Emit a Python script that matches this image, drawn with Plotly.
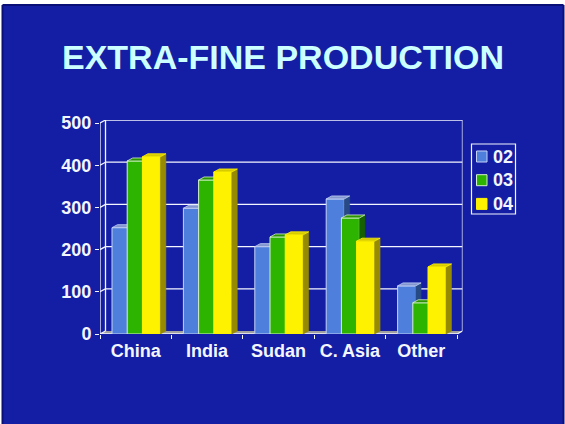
import plotly.graph_objects as go

# Output per region and crop year
categories = ["China", "India", "Sudan", "C. Asia", "Other"]
series_names = ["02", "03", "04"]
values_02 = [252, 298, 207, 320, 114]
values_03 = [410, 365, 230, 275, 74]
values_04 = [420, 384, 235, 220, 159]
y_ticks = [0, 100, 200, 300, 400, 500]

W, H = 565, 424
BG = "#141ea5"
RIM = "#0a0f78"
FONT = "Liberation Sans, Arial, sans-serif"

# Oblique depth of the 3D box, in axis units
DX, DY = 0.077, 7.1
BAR_W, BAR_STEP, BAR_START = 0.252, 0.213, -0.332

XMAX = 4.5 + DX
YMAX = 500 + DY
positions = list(range(len(categories)))

styles = [
    dict(front="#4f7fdc", edge="#c4d2f6", top="#8296cf", side="#274a86"),
    dict(front="#2db400", edge="#d5f0cc", top="#2a9400", side="#176000"),
    dict(front="#fff200", edge="#fff200", top="#d8cc00", side="#958a00"),
]
all_values = [values_02, values_03, values_04]

fig = go.Figure()

for i, (name, vals, st) in enumerate(zip(series_names, all_values, styles)):
    suffix = "" if i == 0 else str(i + 1)
    xa, ya = "x" + suffix, "y" + suffix
    offset = BAR_START + i * BAR_STEP
    fig.add_trace(go.Bar(
        x=positions, y=vals, name=name, width=BAR_W, offset=offset,
        marker=dict(color=st["front"], line=dict(color=st["edge"], width=1)),
        xaxis=xa, yaxis=ya, showlegend=False, hoverinfo="skip",
    ))
    # Top and side faces of each bar, projected back from its front face
    top_x, top_y, side_x, side_y = [], [], [], []
    for p, v in zip(positions, vals):
        x0, x1 = p + offset, p + offset + BAR_W
        top_x += [x0, x1, x1 + DX, x0 + DX, x0, None]
        top_y += [v, v, v + DY, v + DY, v, None]
        side_x += [x1, x1 + DX, x1 + DX, x1, x1, None]
        side_y += [0, DY, v + DY, v, 0, None]
    fig.add_trace(go.Scatter(
        x=side_x, y=side_y, mode="lines", fill="toself", fillcolor=st["side"],
        line=dict(color=st["side"], width=0.5), xaxis=xa, yaxis=ya,
        showlegend=False, hoverinfo="skip",
    ))
    fig.add_trace(go.Scatter(
        x=top_x, y=top_y, mode="lines", fill="toself", fillcolor=st["top"],
        line=dict(color=st["edge"], width=0.8), xaxis=xa, yaxis=ya,
        showlegend=False, hoverinfo="skip",
    ))

WHITE = "#f4f6ff"
rim_line = dict(color=RIM, width=2)
shapes = [
    # Slide panel, with a dark rim on three sides
    dict(type="rect", xref="paper", yref="paper", x0=2.5 / W, x1=563.5 / W,
         y0=0, y1=1 - 5 / H, fillcolor=BG, line=dict(width=0), layer="below"),
    dict(type="line", xref="paper", yref="paper", x0=2.5 / W, x1=563.5 / W,
         y0=1 - 5 / H, y1=1 - 5 / H, line=rim_line, layer="below"),
    dict(type="line", xref="paper", yref="paper", x0=2.5 / W, x1=2.5 / W,
         y0=0, y1=1 - 5 / H, line=rim_line, layer="below"),
    dict(type="line", xref="paper", yref="paper", x0=563.5 / W, x1=563.5 / W,
         y0=0, y1=1 - 5 / H, line=rim_line, layer="below"),
    # Floor of the box
    dict(type="path", xref="x", yref="y", layer="below",
         path=f"M -0.5 0 L 4.5 0 L {XMAX} {DY} L {-0.5 + DX} {DY} Z",
         fillcolor="#a0a0a0", line=dict(width=0)),
]
line = dict(color=WHITE, width=1.3)
seg = lambda x0, y0, x1, y1: dict(type="line", xref="x", yref="y", x0=x0, y0=y0,
                                  x1=x1, y1=y1, line=line, layer="below")
# Back-wall gridlines and the short runs across the left wall
for t in y_ticks:
    if t > 0:
        shapes.append(seg(-0.5 + DX, t + DY, XMAX, t + DY))
    shapes.append(seg(-0.5, t, -0.5 + DX, t + DY))
shapes += [
    seg(-0.5 + DX, DY, -0.5 + DX, YMAX),
    seg(XMAX, DY, XMAX, YMAX),
    seg(-0.5, 0, -0.5, 500),
    seg(4.5, 0, XMAX, DY),
    seg(-0.5, 0, 4.5, 0),
]

# Legend panel
LEFT, TOP, RIGHT, BOTTOM = 471.5, 144, 515.5, 214
shapes.append(dict(type="rect", xref="paper", yref="paper", x0=LEFT / W, x1=RIGHT / W,
                   y0=1 - BOTTOM / H, y1=1 - TOP / H, line=dict(color=WHITE, width=1.2),
                   fillcolor="rgba(0,0,0,0)", layer="above"))
annotations = []
for i, (name, st) in enumerate(zip(series_names, styles)):
    cy = 156.5 + i * 23.7
    shapes.append(dict(type="rect", xref="paper", yref="paper",
                       x0=476.5 / W, x1=487 / W, y0=1 - (cy + 5.5) / H, y1=1 - (cy - 5.5) / H,
                       fillcolor=st["front"], line=dict(color=st["edge"], width=1), layer="above"))
    annotations.append(dict(text=f"<b>{name}</b>", xref="paper", yref="paper",
                            x=491 / W, y=1 - cy / H, xanchor="left", yanchor="middle",
                            showarrow=False, font=dict(family=FONT, size=18, color=WHITE)))

annotations.append(dict(text="<b>EXTRA-FINE PRODUCTION</b>", xref="paper", yref="paper",
                        x=282.5 / W, y=1 - 57 / H, xanchor="center", yanchor="middle",
                        showarrow=False, font=dict(family=FONT, size=34, color="#ccffff")))

x_domain = [100 / W, (100 + 71.4 * (XMAX + 0.5)) / W]
y_domain = [(H - 334) / H, (H - 334 + 0.422 * YMAX) / H]
hidden = dict(domain=x_domain, range=[-0.5, XMAX], visible=False, fixedrange=True)
hidden_y = dict(domain=y_domain, range=[0, YMAX], visible=False, fixedrange=True)

fig.update_layout(
    width=W, height=H, margin=dict(l=0, r=0, t=0, b=0, pad=0, autoexpand=False),
    paper_bgcolor="white", plot_bgcolor="rgba(0,0,0,0)",
    barmode="overlay", shapes=shapes, annotations=annotations,
    xaxis=dict(
        domain=x_domain, range=[-0.5, XMAX], tickmode="array", tickvals=positions,
        ticktext=[f"<b>{c}</b>" for c in categories], ticks="", showgrid=False,
        zeroline=False, showline=False, fixedrange=True, ticklabelstandoff=4,
        tickfont=dict(family=FONT, size=18, color=WHITE),
        minor=dict(tickmode="array", tickvals=[-0.5, 0.5, 1.5, 2.5, 3.5, 4.5],
                   ticks="outside", ticklen=4, tickwidth=1.3, tickcolor=WHITE, showgrid=False),
    ),
    yaxis=dict(
        domain=y_domain, range=[0, YMAX], tickmode="array", tickvals=y_ticks,
        ticktext=[f"<b>{t}</b>" for t in y_ticks], ticks="outside", ticklen=4, tickwidth=1.3,
        tickcolor=WHITE, showgrid=False, zeroline=False, showline=False, fixedrange=True,
        tickfont=dict(family=FONT, size=18, color=WHITE),
    ),
    xaxis2=dict(overlaying="x", anchor="y2", **hidden),
    yaxis2=dict(overlaying="y", anchor="x2", **hidden_y),
    xaxis3=dict(overlaying="x", anchor="y3", **hidden),
    yaxis3=dict(overlaying="y", anchor="x3", **hidden_y),
)

fig.write_html("out.html", config=dict(displayModeBar=False))
